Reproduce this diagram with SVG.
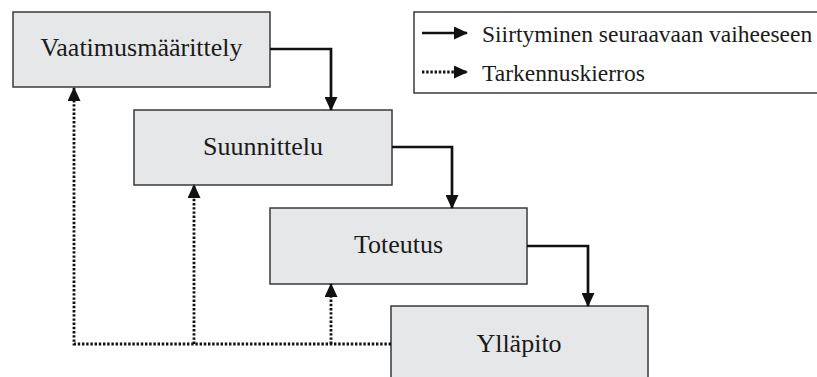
<svg xmlns="http://www.w3.org/2000/svg" width="817" height="377" viewBox="0 0 817 377">
  <style>
    .box { fill: #e6e7e8; stroke: #3a3a3a; stroke-width: 1.5; }
    .lbl { font-family: 'Liberation Serif', 'Times New Roman', serif; font-size: 26px; fill: #1a1a1a; text-anchor: middle; }
    .leg { font-family: 'Liberation Serif', 'Times New Roman', serif; font-size: 23.5px; fill: #1a1a1a; }
    .flow { fill: none; stroke: #111; stroke-width: 2.7; }
    .loop { fill: none; stroke: #111; stroke-width: 2.8; stroke-dasharray: 2.4 1.8; }
  </style>
  <defs>
    <marker id="head" viewBox="0 0 14 13" refX="13" refY="6.5" markerWidth="14" markerHeight="13" markerUnits="userSpaceOnUse" orient="auto">
      <path d="M0,0 L14,6.5 L0,13 Z" fill="#111"/>
    </marker>
  </defs>

  <rect width="817" height="377" fill="#ffffff"/>

  <!-- legend -->
  <g id="legend">
    <rect x="414" y="12" width="410" height="81" fill="#ffffff" stroke="#3a3a3a" stroke-width="1.5"/>
    <line x1="422" y1="33" x2="467" y2="33" class="flow" marker-end="url(#head)"/>
    <text x="482" y="42" class="leg">Siirtyminen seuraavaan vaiheeseen</text>
    <line x1="422" y1="72" x2="467" y2="72" class="loop" marker-end="url(#head)"/>
    <text x="482" y="81" class="leg">Tarkennuskierros</text>
  </g>

  <!-- phases -->
  <g id="vaatimusmaarittely">
    <rect x="13" y="12" width="257" height="75" class="box"/>
    <text x="141.5" y="56" class="lbl">Vaatimusmäärittely</text>
  </g>
  <g id="suunnittelu">
    <rect x="134" y="110" width="258" height="75" class="box"/>
    <text x="263" y="155" class="lbl">Suunnittelu</text>
  </g>
  <g id="toteutus">
    <rect x="270" y="208" width="257" height="76" class="box"/>
    <text x="398.5" y="253" class="lbl">Toteutus</text>
  </g>
  <g id="yllapito">
    <rect x="391" y="306" width="257" height="80" class="box"/>
    <text x="519" y="352" class="lbl">Ylläpito</text>
  </g>

  <!-- connectors -->
  <g id="connectors">
    <path d="M270,49 H331 V110" class="flow" marker-end="url(#head)"/>
    <path d="M392,147 H452 V208" class="flow" marker-end="url(#head)"/>
    <path d="M527,246 H588 V306" class="flow" marker-end="url(#head)"/>
    <path d="M391,344 H74 V88" class="loop" marker-end="url(#head)"/>
    <path d="M194,344 V185" class="loop" marker-end="url(#head)"/>
    <path d="M331,344 V284" class="loop" marker-end="url(#head)"/>
  </g>
</svg>
